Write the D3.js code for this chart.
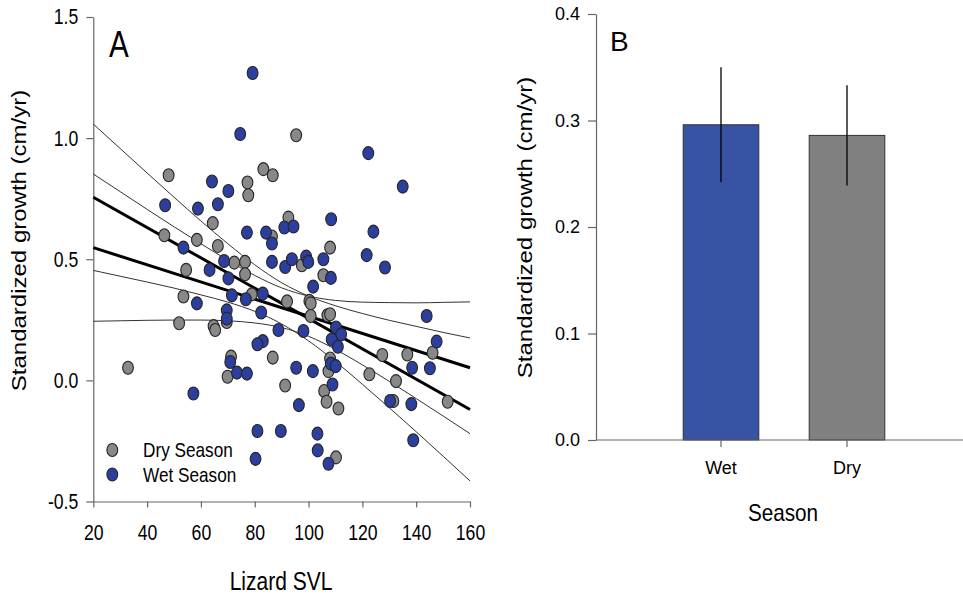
<!DOCTYPE html>
<html><head><meta charset="utf-8">
<script src="https://cdn.jsdelivr.net/npm/d3@7"></script>
<style>body{margin:0;background:#fff}svg{display:block}text{font-family:"Liberation Sans",Arial,sans-serif;fill:#000}</style>
</head><body><svg id="c" width="963" height="596"></svg>
<script>
// ---------- Panel A data ----------
const svlTicks = [20, 40, 60, 80, 100, 120, 140, 160];
const growthTicksA = [-0.5, 0.0, 0.5, 1.0, 1.5];
const drySeason = [
 [48.0,0.847],[83.2,0.872],[86.7,0.847],[77.3,0.817],[77.6,0.764],[64.4,0.649],[46.4,0.599],[86.4,0.594],
 [92.5,0.672],[58.5,0.580],[66.3,0.555],[72.4,0.486],[76.4,0.489],[54.5,0.456],[76.4,0.438],[95.4,1.012],
 [108.0,0.548],[97.5,0.475],[105.5,0.434],[53.5,0.346],[78.9,0.355],[92.0,0.326],[69.6,0.241],[51.9,0.236],
 [64.7,0.224],[65.3,0.208],[86.7,0.094],[71.2,0.098],[69.9,0.015],[91.3,-0.021],[100.3,0.328],[100.8,0.318],
 [100.8,0.266],[107.0,0.269],[108.0,0.273],[127.4,0.105],[108.0,0.090],[107.4,0.038],[122.6,0.025],[132.5,-0.003],
 [105.8,-0.044],[106.7,-0.088],[111.1,-0.116],[131.5,-0.085],[151.7,-0.088],[136.7,0.107],[146.1,0.114],
 [110.2,-0.318],[32.9,0.052]
];
const wetSeason = [
 [79.2,1.269],[74.6,1.017],[64.1,0.821],[70.2,0.782],[46.7,0.723],[58.9,0.709],[66.3,0.727],[77.1,0.610],
 [84.2,0.610],[86.4,0.565],[91.0,0.631],[94.4,0.635],[122.2,0.938],[135.0,0.800],[108.4,0.665],[124.1,0.614],
 [53.5,0.548],[68.6,0.493],[86.4,0.489],[91.3,0.468],[63.2,0.456],[70.2,0.421],[93.8,0.500],[99.1,0.511],
 [99.9,0.489],[105.5,0.500],[121.6,0.517],[128.4,0.466],[108.3,0.423],[101.7,0.387],[58.5,0.318],[71.5,0.351],
 [76.7,0.335],[83.0,0.358],[69.6,0.289],[69.6,0.255],[82.4,0.280],[88.8,0.208],[83.0,0.162],[81.0,0.149],
 [98.1,0.204],[110.2,0.218],[112.1,0.190],[108.6,0.169],[110.9,0.139],[70.9,0.076],[73.4,0.032],[77.1,0.028],
 [57.2,-0.054],[95.4,0.052],[101.6,0.038],[108.3,0.069],[110.1,0.059],[108.9,-0.017],[130.3,-0.085],[138.2,-0.098],
 [96.4,-0.102],[138.5,0.052],[145.1,0.050],[143.9,0.266],[147.6,0.160],[81.0,-0.209],[89.7,-0.209],[80.3,-0.324],
 [103.3,-0.220],[103.4,-0.289],[107.4,-0.344],[138.9,-0.247]
];
// regression fits and confidence bands
const fitX = [20, 160];
const fitSteep = [0.756, -0.120];
const fitShallow = [0.548, 0.052];
const bandX = [20, 30, 40, 50, 60, 70, 80, 90, 100, 110, 120, 130, 140, 150, 160];
const steepUpper = [1.058,0.957,0.856,0.756,0.658,0.564,0.477,0.403,0.348,0.308,0.276,0.248,0.223,0.198,0.175];
const steepLower = [0.454,0.430,0.406,0.381,0.353,0.323,0.285,0.233,0.163,0.078,-0.016,-0.113,-0.212,-0.313,-0.415];
const shallowUpper = [0.852,0.779,0.706,0.634,0.564,0.496,0.433,0.382,0.348,0.330,0.323,0.321,0.320,0.322,0.324];
const shallowLower = [0.244,0.246,0.248,0.249,0.249,0.246,0.237,0.218,0.182,0.128,0.064,-0.004,-0.075,-0.147,-0.220];
const legendLabels = ["Dry Season", "Wet Season"];

// ---------- Panel B data ----------
const seasons = ["Wet", "Dry"];
const meanGrowth = [0.296, 0.286];
const errLow = [0.242, 0.239];
const errHigh = [0.350, 0.333];
const growthTicksB = [0.0, 0.1, 0.2, 0.3, 0.4];

const colWet = "#2d3f9e", colDry = "#888888";
const barWet = "#3953a4", barDry = "#808080";
const axisCol = "#666";
const fmt1 = d => d.toFixed(1);

const svg = d3.select("#c");

// ===== Panel A =====
const xA = d3.scaleLinear().domain([20, 160]).range([93.3, 470]);
const yA = d3.scaleLinear().domain([-0.5, 1.5]).range([501.5, 17]);
const SX = 0.82;

const gxA = svg.append("g").attr("transform", `translate(0,${yA(-0.5)})`)
  .call(d3.axisBottom(xA).tickValues(svlTicks).tickSize(6).tickSizeOuter(0).tickFormat(d => String(d)));
gxA.selectAll(".tick text").attr("y", 23).attr("font-size", 21.5).attr("transform", `scale(${SX},1)`);
const gyA = svg.append("g").attr("transform", `translate(${xA(20)},0)`)
  .call(d3.axisLeft(yA).tickValues(growthTicksA).tickSize(7).tickSizeOuter(0).tickFormat(fmt1));
gyA.selectAll(".tick text").attr("x", -15 / SX).attr("font-size", 21.5).attr("transform", `scale(${SX},1)`);
[gxA, gyA].forEach(g => { g.selectAll("path,line").attr("stroke", axisCol).attr("stroke-width", 1.2); g.selectAll("text").style("font-family", '"Liberation Sans",Arial,sans-serif').attr("fill", "#000"); });

// bands
const bandLine = d3.line().x((d, i) => xA(bandX[i])).y(d => yA(d)).curve(d3.curveMonotoneX);
[steepUpper, steepLower, shallowUpper, shallowLower].forEach(arr => {
  svg.append("path").attr("d", bandLine(arr)).attr("fill", "none").attr("stroke", "#333").attr("stroke-width", 1);
});
const fitLine = d3.line().x((d, i) => xA(fitX[i])).y(d => yA(d));
[fitSteep, fitShallow].forEach(arr => {
  svg.append("path").attr("d", fitLine(arr)).attr("fill", "none").attr("stroke", "#000").attr("stroke-width", 3);
});

// points
function dots(data, col) {
  svg.append("g").selectAll("ellipse").data(data).join("ellipse")
    .attr("cx", d => xA(d[0])).attr("cy", d => yA(d[1]))
    .attr("rx", 5.4).attr("ry", 6.5)
    .attr("fill", col).attr("stroke", "#262626").attr("stroke-width", 1.1);
}
dots(drySeason, colDry);
dots(wetSeason, colWet);

// legend
const legY = [450, 474.5];
legendLabels.forEach((lab, i) => {
  svg.append("ellipse").attr("cx", 112.3).attr("cy", legY[i]).attr("rx", 5.4).attr("ry", 6.5)
    .attr("fill", i === 0 ? colDry : colWet).attr("stroke", "#262626").attr("stroke-width", 1.1);
  svg.append("text").attr("transform", `translate(143,${legY[i] + 7.2}) scale(0.86,1)`)
    .attr("font-size", 20).text(lab);
});

svg.append("text").attr("transform", "translate(109,57) scale(0.8,1)").attr("font-size", 37).text("A");
svg.append("text").attr("transform", "translate(281,590) scale(0.84,1)").attr("text-anchor", "middle")
  .attr("font-size", 25).text("Lizard SVL");
svg.append("text").attr("transform", "translate(26,240.5) scale(0.85,1) rotate(-90)").attr("text-anchor", "middle")
  .attr("font-size", 24).text("Standardized growth (cm/yr)");

// ===== Panel B =====
const xB = d3.scaleBand().domain(seasons).range([658, 910]).paddingInner(0.4).paddingOuter(0.2);
const yB = d3.scaleLinear().domain([0, 0.4]).range([440, 14]);

svg.append("g").selectAll("rect").data(seasons).join("rect")
  .attr("x", d => xB(d)).attr("width", xB.bandwidth())
  .attr("y", (d, i) => yB(meanGrowth[i])).attr("height", (d, i) => yB(0) - yB(meanGrowth[i]))
  .attr("fill", (d, i) => i === 0 ? barWet : barDry).attr("stroke", "#333").attr("stroke-width", 1);
svg.append("g").selectAll("line").data(seasons).join("line")
  .attr("x1", d => xB(d) + xB.bandwidth() / 2).attr("x2", d => xB(d) + xB.bandwidth() / 2)
  .attr("y1", (d, i) => yB(errLow[i])).attr("y2", (d, i) => yB(errHigh[i]))
  .attr("stroke", "#000").attr("stroke-width", 1.3);

const gxB = svg.append("g").attr("transform", `translate(0,${yB(0)})`)
  .call(d3.axisBottom(xB).tickSize(7).tickSizeOuter(0));
gxB.select(".domain").remove();
gxB.append("line").attr("x1", 596).attr("x2", 963).attr("y1", 0).attr("y2", 0);
gxB.selectAll(".tick text").attr("y", 21).attr("font-size", 18);
const gyB = svg.append("g").attr("transform", "translate(596,0)")
  .call(d3.axisLeft(yB).tickValues(growthTicksB).tickSize(8).tickSizeOuter(0).tickFormat(fmt1));
gyB.selectAll(".tick text").attr("x", -16).attr("font-size", 18);
[gxB, gyB].forEach(g => { g.selectAll("path,line").attr("stroke", axisCol).attr("stroke-width", 1.2); g.selectAll("text").style("font-family", '"Liberation Sans",Arial,sans-serif').attr("fill", "#000"); });

svg.append("text").attr("x", 610).attr("y", 51).attr("font-size", 28).text("B");
svg.append("text").attr("transform", "translate(783,520.5) scale(0.9,1)").attr("text-anchor", "middle")
  .attr("font-size", 23).text("Season");
svg.append("text").attr("transform", "translate(532,227.5) scale(0.85,1) rotate(-90)").attr("text-anchor", "middle")
  .attr("font-size", 24).text("Standardized growth (cm/yr)");
</script></body></html>
